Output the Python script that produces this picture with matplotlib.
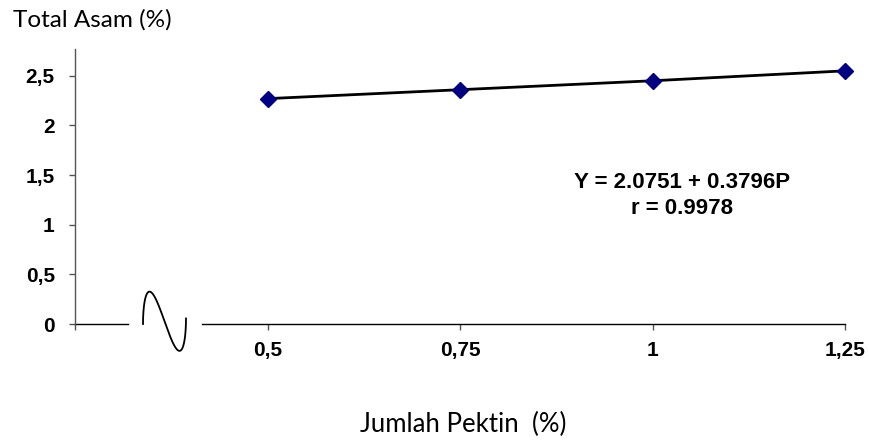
import numpy as np
import matplotlib
matplotlib.use("Agg")
import matplotlib.pyplot as plt

# Data
pektin = [0.5, 0.75, 1.0, 1.25]
total_asam = [2.27, 2.36, 2.45, 2.55]
x_ticks = [0.25, 0.5, 0.75, 1.0, 1.25]
x_ticklabels = ["", "0,5", "0,75", "1", "1,25"]
y_ticks = [0, 0.5, 1.0, 1.5, 2.0, 2.5]
y_ticklabels = ["0", "0,5", "1", "1,5", "2", "2,5"]
equation = "Y = 2.0751 + 0.3796P"
r_text = "r = 0.9978"
xlabel = "Jumlah Pektin  (%)"
ylabel = "Total Asam (%)"

W, H = 869, 441
fig = plt.figure(figsize=(W / 100, H / 100), dpi=100)
L, R, B, T = 75, 845, 324, 49
ax = fig.add_axes([L / W, (H - B) / H, (R - L) / W, (B - T) / H])

ax.plot(pektin, total_asam, color="black", lw=2, zorder=2)
ax.plot(pektin, total_asam, ls="none", marker="D", ms=8.5, mfc="#000080",
        mec="#000080", zorder=3, clip_on=False)

ax.set_xlim(0.25, 1.25)
ax.set_ylim(0, 2.77)

for s in ["top", "right", "bottom"]:
    ax.spines[s].set_visible(False)
ax.spines["left"].set_color("#555555")
ax.spines["left"].set_linewidth(1)

# broken x axis
gap_l = (128 - L) / (R - L)
gap_r = (202 - L) / (R - L)
ax.plot([0, gap_l], [0, 0], transform=ax.transAxes, color="black", lw=1,
        clip_on=False)
ax.plot([gap_r, 1], [0, 0], transform=ax.transAxes, color="black", lw=1,
        clip_on=False)

# break symbol (wave)
t = np.linspace(0, 1, 200)
x0 = (143 - L) / (R - L)
wd = (186 - 143) / (R - L)
amp = 31 / (B - T)
wx = x0 + wd * (1 - np.cos(np.pi * t)) / 2
wy = amp * np.sin(2 * np.pi * t) + 0.02 * t
ax.plot(wx, wy, transform=ax.transAxes, color="black", lw=1.3, clip_on=False)

ax.set_xticks(x_ticks)
ax.set_xticklabels(x_ticklabels)
ax.set_yticks(y_ticks)
ax.set_yticklabels(y_ticklabels)
ax.tick_params(axis="x", direction="out", length=4.5, width=1, color="#555555",
               pad=8, labelsize=15)
ax.tick_params(axis="y", direction="out", length=4.5, width=1, color="#555555",
               pad=10, labelsize=15)
for lab in ax.get_xticklabels() + ax.get_yticklabels():
    lab.set_fontfamily("Liberation Sans")
    lab.set_fontweight("bold")

ax.text((682 - L) / (R - L), (B - 183) / (B - T), equation, transform=ax.transAxes,
        ha="center", va="center", fontsize=16, fontweight="bold",
        family="Liberation Sans")
ax.text((682 - L) / (R - L), (B - 209) / (B - T), r_text, transform=ax.transAxes,
        ha="center", va="center", fontsize=16, fontweight="bold",
        family="Liberation Sans")

fig.text(13 / W, 1 - 20 / H, ylabel, ha="left", va="center", fontsize=17.5,
         family="Lato")
fig.text(463 / W, 1 - 424 / H, xlabel, ha="center", va="center", fontsize=18.5,
         family="Lato")

fig.savefig("out.png", dpi=100)
